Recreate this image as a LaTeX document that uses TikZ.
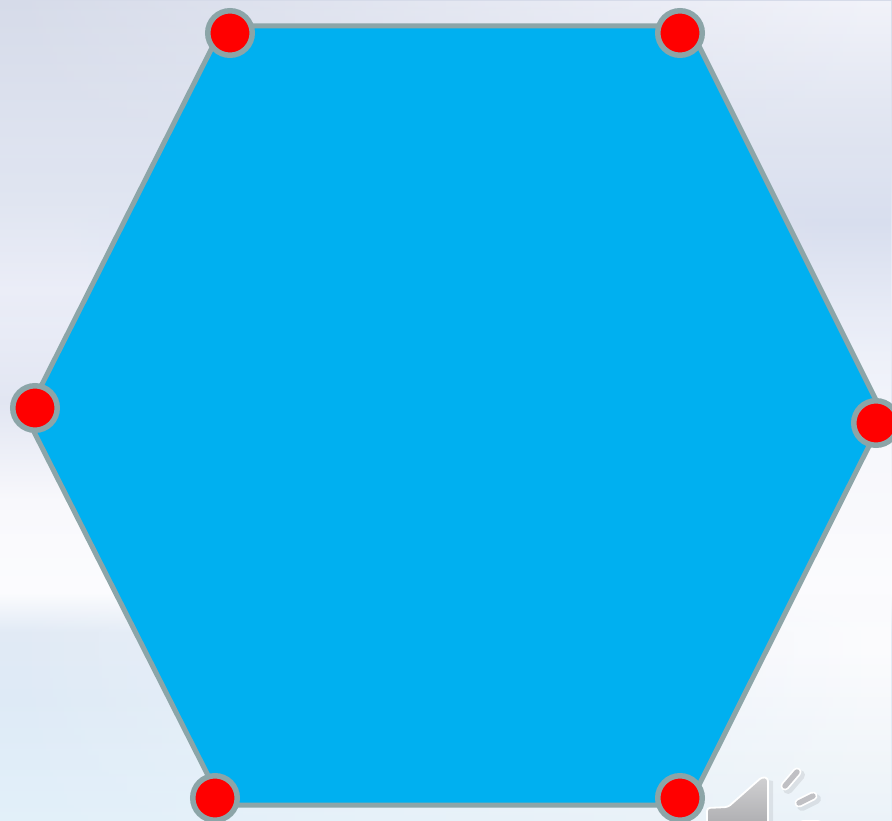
\documentclass[tikz,border=0pt]{standalone}
\usetikzlibrary{fadings}
\definecolor{hexfill}{RGB}{0,176,240}
\definecolor{hexline}{RGB}{140,165,168}
\definecolor{spkA}{RGB}{208,208,210}
\definecolor{spkB}{RGB}{172,172,175}
\definecolor{spkBar}{RGB}{192,192,196}
\pgfdeclareverticalshading{skyleft}{100bp}{
  rgb(0bp)=(0.886,0.941,0.980);
  rgb(25bp)=(0.886,0.941,0.980);
  rgb(32.5bp)=(0.871,0.918,0.965);
  rgb(36.5bp)=(0.882,0.918,0.961);
  rgb(39bp)=(0.988,0.988,0.996);
  rgb(44.5bp)=(0.973,0.973,0.988);
  rgb(50.5bp)=(0.886,0.902,0.949);
  rgb(57.35bp)=(0.925,0.933,0.973);
  rgb(62.8bp)=(0.882,0.902,0.949);
  rgb(75bp)=(0.839,0.859,0.914);
  rgb(100bp)=(0.839,0.859,0.914)}
\pgfdeclareverticalshading{skyright}{100bp}{
  rgb(0bp)=(0.925,0.953,0.973);
  rgb(25bp)=(0.925,0.953,0.973);
  rgb(35.5bp)=(0.988,0.988,0.996);
  rgb(47.5bp)=(0.973,0.976,0.992);
  rgb(53.5bp)=(0.933,0.945,0.980);
  rgb(61.5bp)=(0.847,0.871,0.933);
  rgb(68.9bp)=(0.894,0.910,0.953);
  rgb(75bp)=(0.949,0.953,0.980);
  rgb(100bp)=(0.949,0.953,0.980)}
\tikzfading[name=rightfade,left color=transparent!100,right color=transparent!0]
\tikzset{
  x=1pt,y=-1pt,
  hexedge/.style={draw=hexline,line width=5pt,fill=hexfill,line join=round},
  vertex/.style={circle,fill=red,draw=hexline,line width=5.5pt,minimum size=44.5pt,inner sep=0pt,outer sep=0pt},
  speaker/.style={draw=white,top color=spkA,bottom color=spkB,line width=1.8pt,rounded corners=3pt},
  barhalo/.style={draw=white,line width=9pt,line cap=round},
  barcore/.style={draw=spkBar,line width=5.4pt,line cap=round},
  barshadow/.style={draw=black,opacity=.08,line width=10pt,line cap=round},
}
\begin{document}
\begin{tikzpicture}
\useasboundingbox (0,0) rectangle (892,821);
\shade[shading=skyleft] (0,0) rectangle (892,821);
\shade[shading=skyright,path fading=rightfade] (0,0) rectangle (892,821);
\clip (0,0) rectangle (892,821);
\coordinate (p1) at (223,26);
\coordinate (p2) at (689,26);
\coordinate (p3) at (884,416);
\coordinate (p4) at (689,805);
\coordinate (p5) at (223,805);
\coordinate (p6) at (26,416);
\draw[hexedge] (p1) -- (p2) -- (p3) -- (p4) -- (p5) -- (p6) -- cycle;
\node[vertex] (v1) at (230,33) {};
\node[vertex] (v2) at (680,33) {};
\node[vertex] (v3) at (876,423) {};
\node[vertex] (v4) at (680,798) {};
\node[vertex] (v5) at (215,798) {};
\node[vertex] (v6) at (35,408) {};
\fill[black,opacity=.07] (711,828) -- (711,811) -- (733,810) -- (768,780) -- (773,781) -- (773,828) -- cycle;
\shade[speaker] (707,828) -- (707,808) -- (728,807) -- (762,777) -- (768,778) -- (768,828) -- cycle;
\draw[barshadow] (788,789) -- (800,775);
\draw[barhalo] (785,786) -- (797,772);
\draw[barcore] (785,786) -- (797,772);
\draw[barshadow] (802,806) -- (816,799);
\draw[barhalo] (799,803) -- (813,796);
\draw[barcore] (799,803) -- (813,796);
\draw[barhalo] (803,824) -- (818,824);
\draw[barcore] (803,824) -- (818,824);
\end{tikzpicture}
\end{document}
